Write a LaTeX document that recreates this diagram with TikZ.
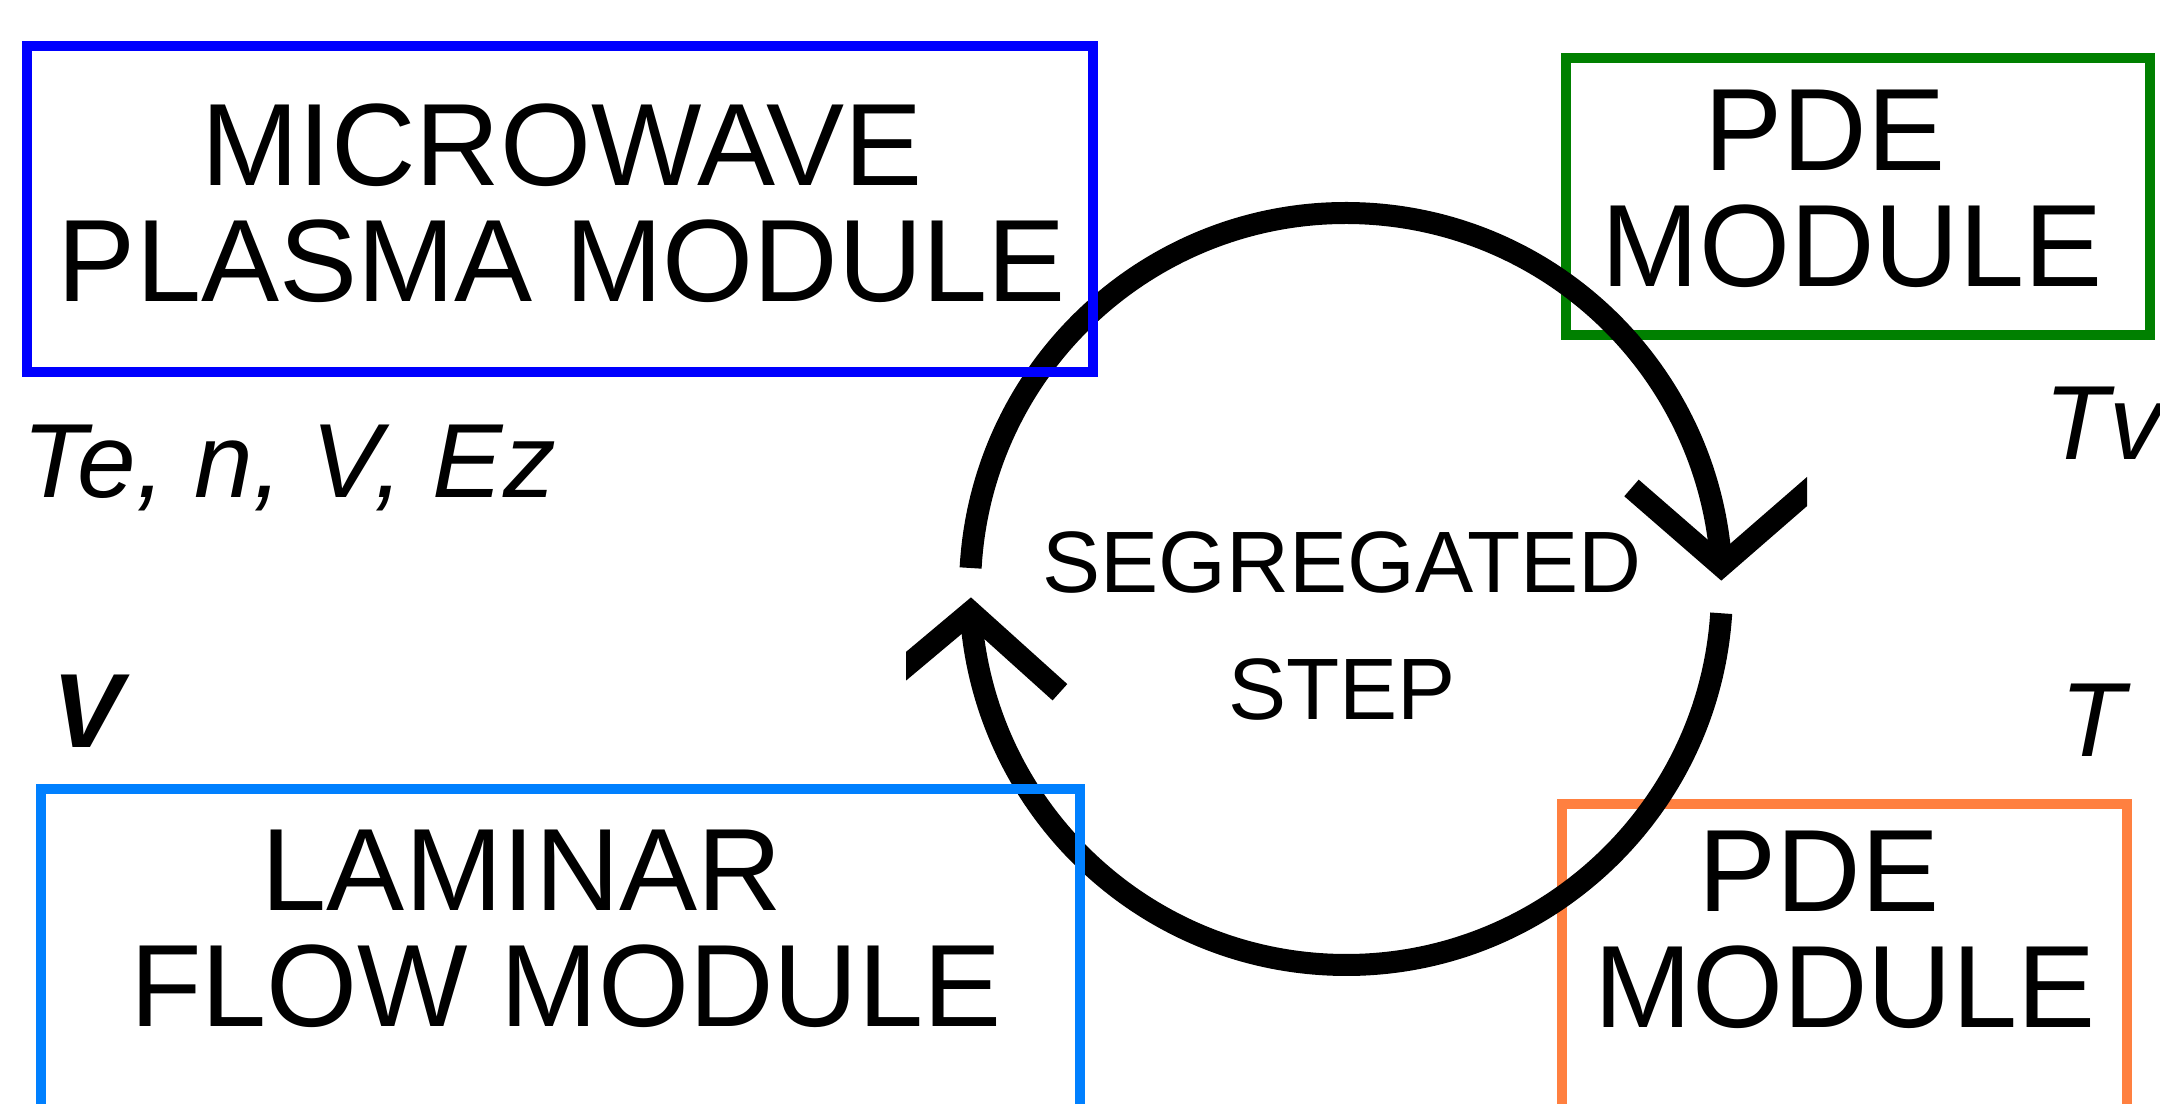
\documentclass[tikz,border=0pt]{standalone}
\usepackage{fontspec}
\setmainfont{Liberation Sans}
\usetikzlibrary{positioning}
\usetikzlibrary{calc}

\definecolor{mwblue}{RGB}{0,0,255}
\definecolor{lfblue}{RGB}{0,128,255}
\definecolor{pdegreen}{RGB}{0,128,0}
\definecolor{pdeorange}{RGB}{255,128,64}

\begin{document}
\begin{tikzpicture}[modframe/.style={draw, line width=3pt, inner sep=0pt},
                    modtext/.style={align=center, inner sep=0pt, font=\fontsize{33.3}{33}\selectfont},
                    lbl/.style={inner sep=0pt, anchor=base west, font=\fontsize{30}{30}\selectfont\itshape},
                    cyc/.style={line width=0.22cm},
                    tip/.style={line width=0.22cm, line join=miter}]
            \useasboundingbox (0,0) rectangle (21.6,11.03);
            \clip (0,0) rectangle (21.6,11.03);

            % right hand modules sit under the cycle
            \node[modframe, draw=pdegreen, minimum width=5.84cm, minimum height=2.77cm] (pdeabox) at (18.58, 9.065) {};
            \node[modframe, draw=pdeorange, minimum width=5.65cm, minimum height=3.56cm] (pdebbox) at (18.445, 1.21) {};

            % segregated cycle
            \coordinate (c) at (13.46, 5.14);
            \coordinate (rtip) at ($(c)+(3.5:3.76)$);
            \coordinate (ltip) at ($(c)+(183.5:3.76)$);
            \draw[cyc] (c) ++(176.8:3.76) arc[start angle=176.8, end angle=3.5, radius=3.76];
            \draw[cyc] (c) ++(-3.7:3.76) arc[start angle=-3.7, end angle=-176.5, radius=3.76];
            \begin{scope}
                \clip (0,0) rectangle (18.07, 11.03);
                \draw[tip] (rtip) ++(139:1.19) -- (rtip) -- ++(41:1.3);
            \end{scope}
            \begin{scope}
                \clip (9.06,0) rectangle (21.6, 11.03);
                \draw[tip] (ltip) ++(220:1.2) -- (ltip) -- ++(-42:1.2);
            \end{scope}

            \node[modframe, draw=mwblue, minimum width=10.66cm, minimum height=3.26cm] (mwbox) at (5.60, 8.94) {};
            \node[modframe, draw=lfblue, minimum width=10.39cm, minimum height=3.71cm] (lfbox) at (5.605, 1.285) {};

            \node[modtext] (mw) at (5.62, 8.995) {MICROWAVE\\PLASMA MODULE};
            \node[modtext] (lf) at (5.66, 1.745) {LAMINAR\hspace*{0.88cm}\\FLOW MODULE};
            \node[modtext] (pdea) at (18.52, 9.145) {PDE\hspace*{0.54cm}\\MODULE};
            \node[modtext] (pdeb) at (18.45, 1.73) {PDE\hspace*{0.52cm}\\MODULE};
            \node[modtext, font=\fontsize{24.8}{36.4}\selectfont] (seg) at (13.42, 4.77) {SEGREGATED\\STEP};

            % exchanged variables
            \node[lbl] (mwvars) at (0.22, 6.05) {Te, n, V, Ez};
            \node[lbl, font=\fontsize{30}{30}\selectfont\bfseries\itshape] (lfvars) at (0.52, 3.55) {V};
            \node[lbl] (pdeavars) at (20.44, 6.43) {Tv};
            \node[lbl] (pdebvars) at (20.6, 3.46) {T};
        \end{tikzpicture}
\end{document}
